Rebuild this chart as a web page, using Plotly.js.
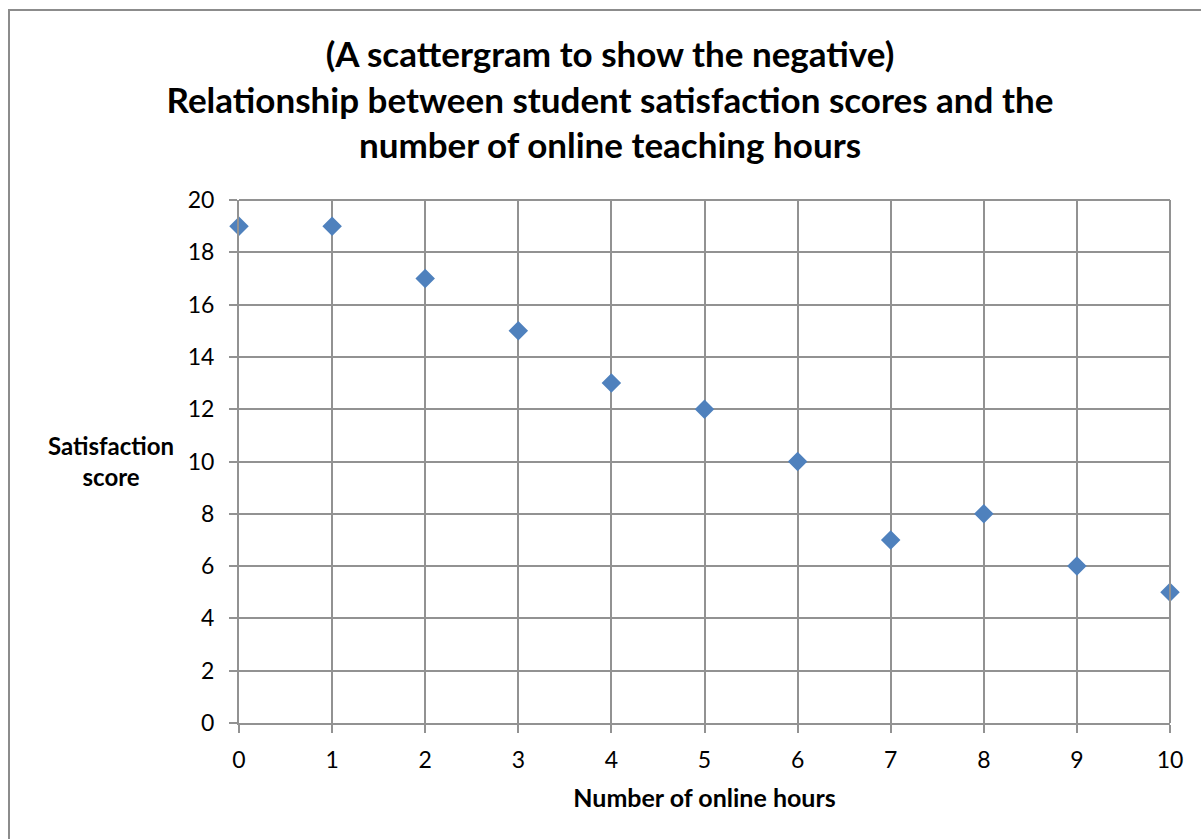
<!DOCTYPE html>
<html><head><meta charset="utf-8">
<script src="https://cdn.plot.ly/plotly-3.0.1.min.js"></script>
<style>html,body{margin:0;padding:0;background:#fff}#c{width:1201px;height:839px}</style>
</head><body><div id="c"></div>
<script>
const hours = [0, 1, 2, 3, 4, 5, 6, 7, 8, 9, 10];
const scores = [19, 19, 17, 15, 13, 12, 10, 7, 8, 6, 5];
const titleLines = ["(A scattergram to show the negative)", "Relationship between student satisfaction scores and the", "number of online teaching hours"];
const xTitle = "Number of online hours";
const yTitleLines = ["Satisfaction", "score"];

const W = 1201, H = 839, L = 239, R = 31, T = 200, B = 116;
const pw = W - L - R, ph = H - T - B;
const px = v => (v - L) / pw;
const py = v => (H - B - v) / ph;
const grid = '#929292';
const font = 'Lato, "Open Sans", sans-serif';

Plotly.newPlot('c', [{
  x: hours, y: scores, type: 'scatter', mode: 'markers',
  marker: {symbol: 'diamond', size: 15, color: '#4F81BD', line: {width: 0}},
  hoverinfo: 'x+y', cliponaxis: false
}], {
  width: W, height: H,
  margin: {l: L, r: R, t: T, b: B, pad: 0},
  paper_bgcolor: '#fff', plot_bgcolor: '#fff',
  showlegend: false,
  font: {family: font, color: '#000'},
  title: {text: titleLines.join('<br>'), font: {family: font, size: 35, color: '#000', weight: 'bold'},
          x: 610 / W, xref: 'container', xanchor: 'center', y: 1 - 67 / H, yref: 'container', yanchor: 'middle'},
  xaxis: {range: [0, 10], dtick: 1, tick0: 0, showgrid: true, gridcolor: grid, gridwidth: 2,
          showline: true, linecolor: grid, linewidth: 2, zeroline: false,
          ticks: 'outside', ticklen: 8, tickwidth: 2, tickcolor: grid,
          tickfont: {size: 23, color: '#000', family: font}, ticklabelstandoff: 7,
          title: {text: xTitle, font: {size: 25, color: '#000', family: font, weight: 'bold'}, standoff: 18}},
  yaxis: {range: [0, 20], dtick: 2, tick0: 0, showgrid: true, gridcolor: grid, gridwidth: 2,
          showline: true, linecolor: grid, linewidth: 2, zeroline: false, mirror: false,
          ticks: 'outside', ticklen: 8, tickwidth: 2, tickcolor: grid,
          tickfont: {size: 23, color: '#000', family: font}, ticklabelstandoff: 10},
  shapes: [
    {type: 'line', xref: 'paper', yref: 'paper', x0: 1, x1: 1, y0: 0, y1: 1, line: {color: grid, width: 2}},
    {type: 'line', xref: 'paper', yref: 'paper', x0: 0, x1: 1, y0: 1, y1: 1, line: {color: grid, width: 2}},
    {type: 'rect', xref: 'paper', yref: 'paper', x0: px(9), x1: px(1210), y0: py(850), y1: py(10), line: {color: '#8c8c8c', width: 2}, fillcolor: 'rgba(0,0,0,0)', layer: 'below'}
  ],
  annotations: [{
    text: yTitleLines.join('<br>'), xref: 'paper', yref: 'paper', x: px(111), y: py(461),
    xanchor: 'center', yanchor: 'middle', showarrow: false, align: 'center',
    font: {size: 24, color: '#000', family: font, weight: 'bold'}
  }]
}, {displayModeBar: false, staticPlot: true});
</script></body></html>
